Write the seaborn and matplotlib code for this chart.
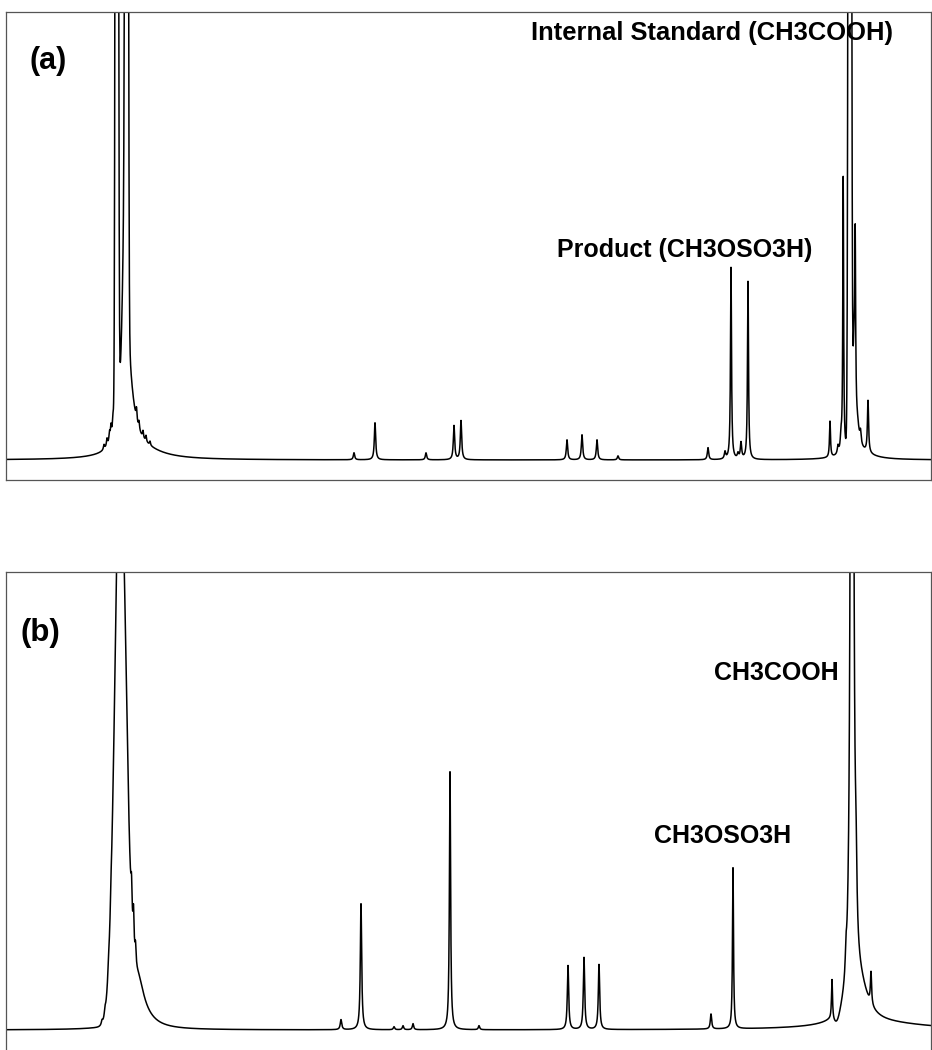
import numpy as np
import pandas as pd
import matplotlib
matplotlib.use("Agg")
import matplotlib.pyplot as plt
import seaborn as sns

sns.set_style("white")
plt.rcParams['font.family'] = ['Liberation Sans', 'DejaVu Sans']

# ---------------- data: peak tables ----------------
# panel (a): position, height above baseline, half-width, lineshape (L=Lorentz, G=Gauss)
A_BASELINE = 20
A_POS = [116.8, 126.6, 125.0, 131.0, 140.0,
         104, 107, 109.5, 111, 113, 136.5, 139, 143, 146, 150,
         354, 375, 426, 454, 461, 567, 582, 597, 618,
         708, 725, 731, 738, 741, 748,
         830, 838, 841, 843.2, 849.8, 855.2, 854.0, 857.5, 860.5, 868, 858]
A_HEIGHT = [3000, 3000, 270, 25, 10,
            5, 8, 10, 14, 20, 12, 8, 7, 6, 4,
            7, 37, 7, 34, 39, 20, 25, 20, 4,
            12, 7, 192, 5, 16, 178,
            36, 8, 15, 275, 3000, 160, 100, 15, 12, 52, 8]
A_WIDTH = [1.0, 1.0, 3.0, 6.0, 25.0,
           0.7, 0.7, 0.7, 0.7, 0.8, 0.6, 0.6, 0.6, 0.6, 0.6,
           0.8, 0.8, 0.8, 0.8, 0.8, 0.8, 0.8, 0.8, 0.8,
           0.8, 0.8, 0.6, 0.8, 0.8, 0.6,
           0.6, 0.8, 0.8, 0.5, 1.05, 0.5, 1.5, 2.0, 0.8, 0.7, 15.0]
A_SHAPE = ['G', 'G', 'L', 'L', 'L',
           'L', 'L', 'L', 'L', 'L', 'L', 'L', 'L', 'L', 'L',
           'L', 'L', 'L', 'L', 'L', 'L', 'L', 'L', 'L',
           'L', 'L', 'L', 'L', 'L', 'L',
           'L', 'L', 'L', 'L', 'G', 'L', 'L', 'L', 'L', 'L', 'L']

# panel (b)
B_BASELINE = 22
B_POS = [120.5, 116.5, 131.5, 133.5, 135.5, 138, 140, 102, 105, 108.5, 111,
         341, 361, 394, 403, 413, 450, 479, 568, 584, 599,
         711, 733, 832, 837, 846, 852, 856, 871, 860, 880]
B_HEIGHT = [555, 25, 35, 40, 20, 40, 12, 4, 6, 8, 10,
            10, 126, 3, 4, 6, 258, 4, 64, 72, 65,
            15, 161, 40, -10, 20, 2600, 60, 32, 32, 6]
B_WIDTH = [5.7, 0.6, 0.7, 0.7, 0.7, 7.0, 15.0, 0.8, 0.8, 0.8, 0.6,
           0.9, 0.8, 0.8, 0.8, 0.8, 0.7, 0.8, 0.8, 0.8, 0.8,
           0.8, 0.6, 0.6, 3.0, 0.8, 0.92, 1.0, 0.7, 10.0, 60.0]
B_SHAPE = ['G', 'L', 'L', 'L', 'L', 'L', 'L', 'L', 'L', 'L', 'L',
           'L', 'L', 'L', 'L', 'L', 'L', 'L', 'L', 'L', 'L',
           'L', 'L', 'L', 'G', 'L', 'L', 'L', 'L', 'L', 'L']

A_LABELS = ["(a)", "Internal Standard (CH3COOH)", "Product (CH3OSO3H)"]
B_LABELS = ["(b)", "CH3COOH", "CH3OSO3H"]


def spectrum(x, base, pos, height, width, shape):
    y = np.full_like(x, float(base))
    for p, h, w, s in zip(pos, height, width, shape):
        if s == 'G':
            y += h * np.exp(-(x - p) ** 2 / (2 * w ** 2))
        else:
            y += h * w ** 2 / ((x - p) ** 2 + w ** 2)
    return y


W, H = 932, 1050
fig = plt.figure(figsize=(W / 100, H / 100), dpi=100)
x = np.arange(6, 931.01, 0.2)

ax_a = fig.add_axes([6 / W, (H - 480) / H, 925 / W, 468 / H])
ax_b = fig.add_axes([6 / W, -2 / H, 925 / W, 480 / H])

df_a = pd.DataFrame({"x": x, "y": spectrum(x, A_BASELINE, A_POS, A_HEIGHT, A_WIDTH, A_SHAPE)})
df_b = pd.DataFrame({"x": x, "y": spectrum(x, B_BASELINE, B_POS, B_HEIGHT, B_WIDTH, B_SHAPE)})

for ax, df, top in [(ax_a, df_a, 468), (ax_b, df_b, 480)]:
    sns.lineplot(data=df, x="x", y="y", ax=ax, color="black", lw=1.1,
                 estimator=None, sort=False)
    ax.set_xlim(6, 931)
    ax.set_ylim(0, top)
    ax.set_xticks([])
    ax.set_yticks([])
    ax.set_xlabel("")
    ax.set_ylabel("")
    for sp in ax.spines.values():
        sp.set_visible(True)
        sp.set_color("#555555")
        sp.set_linewidth(0.9)

fb = dict(fontweight="bold", color="black", family=["Liberation Sans", "DejaVu Sans"])
ax_a.text(48, 419, A_LABELS[0], fontsize=22, ha="center", va="center", **fb)
ax_a.text(531, 440, A_LABELS[1], fontsize=18.4, ha="left", va="baseline", **fb)
ax_a.text(557, 223, A_LABELS[2], fontsize=18, ha="left", va="baseline", **fb)

ax_b.text(40, 419, B_LABELS[0], fontsize=22.5, ha="center", va="center", **fb)
ax_b.text(714, 372, B_LABELS[1], fontsize=18, ha="left", va="baseline", **fb)
ax_b.text(654, 209, B_LABELS[2], fontsize=18, ha="left", va="baseline", **fb)

fig.savefig("out.png", dpi=100)
